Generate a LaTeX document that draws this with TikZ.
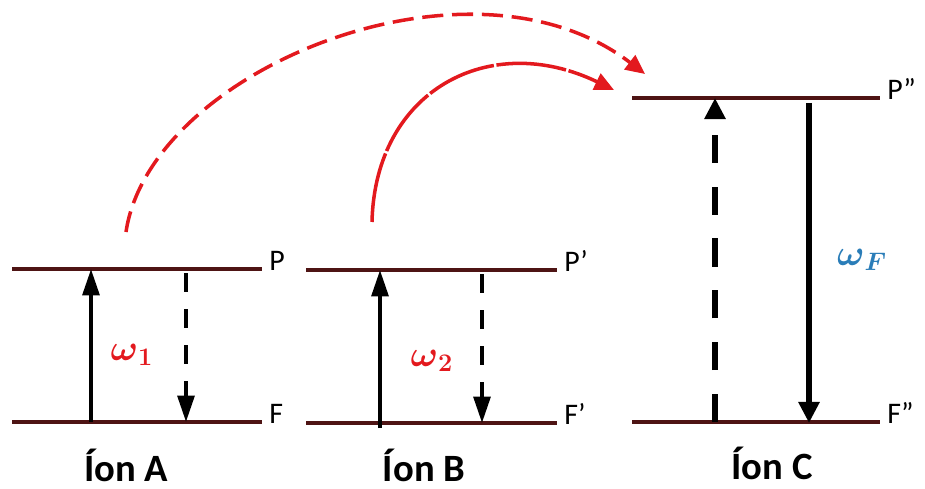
\documentclass[tikz,border=0pt]{standalone}
\usepackage{amsmath, amssymb}
\usepackage{fontspec}
\setmainfont{Carlito}
\usepackage{tikz}
\usetikzlibrary{arrows.meta, positioning, calc}
\definecolor{lvlRed}{HTML}{4E1414}
\definecolor{mRed}{HTML}{E3191E}
\definecolor{mBlue}{HTML}{2A7DB8}

\begin{document}
\begin{tikzpicture}[x=0.02cm, y=-0.02cm,
    level/.style={draw=lvlRed, line width=1.8pt},
    lvltxt/.style={anchor=base west, inner sep=0pt, font=\fontsize{17}{20}\selectfont},
    iontxt/.style={font=\bfseries\fontsize{22}{26}\selectfont},
    freqtxt/.style={font=\fontsize{21}{24}\selectfont},
    pump/.style={line width=2.2pt, -{Triangle[length=15pt, width=9.5pt]}},
    decay/.style={pump, dash pattern=on 11pt off 9.5pt},
    fluo/.style={line width=3.8pt, -{Triangle[length=12pt, width=11.5pt]}},
    fluodash/.style={fluo, dash pattern=on 16pt off 13.5pt},
    transfer/.style={mRed, line width=2pt, -{Triangle[length=11pt, width=10pt]}}]
    \useasboundingbox (0,0) rectangle (925,489);
    % levels P/F of the three ions, with names underneath
    \foreach \n/\xl/\xr/\yt/\yb/\lp/\lf/\xc/\yc in {A/12/262/269/422/P/F/126/465,
        B/306/557/270/423/P’/F’/424/465, C/632/880/98/422/P”/F”/772/463} {
      \draw[level] (\xl,\yt) coordinate (\n-Pl) -- (\xr,\yt) coordinate (\n-Pr);
      \draw[level] (\xl,\yb) coordinate (\n-Fl) -- (\xr,\yb) coordinate (\n-Fr);
      \node[lvltxt] (\n-P) at ($(\n-Pr)+(7,2)$) {\lp};
      \node[lvltxt] (\n-F) at ($(\n-Fr)+(7,1)$) {\lf};
      \node[iontxt] (\n-name) at (\xc,\yc) {Íon \n};
    }
    % ion A
    \coordinate (A-up0) at (91,422);  \coordinate (A-up1) at (91,269);
    \coordinate (A-dn0) at (186,273); \coordinate (A-dn1) at (186,422);
    \draw[pump] (A-up0) -- (A-up1);
    \draw[decay] (A-dn0) -- (A-dn1);
    \node[freqtxt, text=mRed] (w1) at (132,355) {$\boldsymbol{\omega}_{\boldsymbol{1}}$};
    % ion B
    \coordinate (B-up0) at (380,428); \coordinate (B-up1) at (380,270);
    \coordinate (B-dn0) at (482,274); \coordinate (B-dn1) at (482,423);
    \draw[pump] (B-up0) -- (B-up1);
    \draw[decay] (B-dn0) -- (B-dn1);
    \node[freqtxt, text=mRed] (w2) at (432,361) {$\boldsymbol{\omega}_{\boldsymbol{2}}$};
    % ion C
    \coordinate (C-up0) at (715,422); \coordinate (C-up1) at (715,98);
    \coordinate (C-dn0) at (809,103); \coordinate (C-dn1) at (809,423);
    \draw[fluodash] (C-up0) -- (C-up1);
    \draw[fluo] (C-dn0) -- (C-dn1);
    \node[freqtxt, text=mBlue] (wF) at (862,260) {$\boldsymbol{\omega}_{\boldsymbol{F}}$};
    % energy transfer A -> C and B -> C
    \coordinate (A-src) at (126,232); \coordinate (C-in1) at (645,74);
    \coordinate (B-src) at (372,222); \coordinate (C-in2) at (614,90);
    \draw[transfer, dash pattern=on 12pt off 5pt] (A-src) .. controls (150,70) and (470,-60) .. (C-in1);
    \draw[transfer, dash pattern=on 40pt off 1.5pt] (B-src) .. controls (375,90) and (490,30) .. (C-in2);
\end{tikzpicture}
\end{document}
